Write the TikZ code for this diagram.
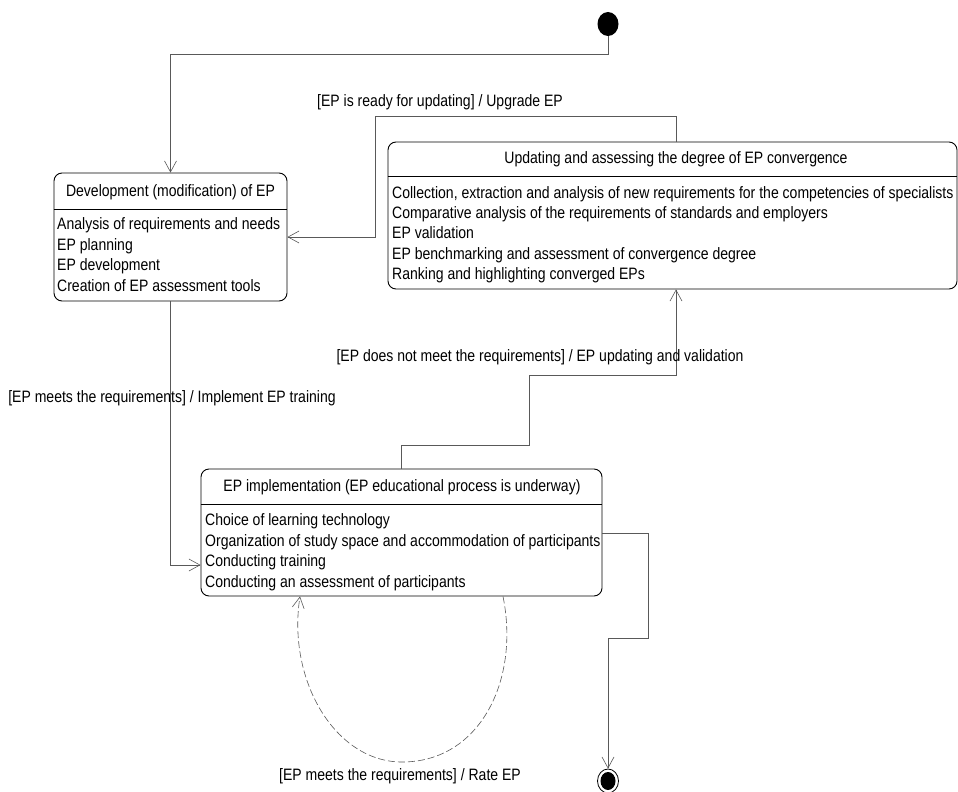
\documentclass[tikz,border=0pt]{standalone}
\usepackage{fontspec}
\setmainfont[FakeStretch=0.85]{Liberation Sans}
\usetikzlibrary{arrows.meta,calc,shapes.geometric}
\begin{document}
\begin{tikzpicture}[x=1pt,y=-1pt,
  statebox/.style={draw=black,line width=0.9pt,rounded corners=8pt,inner sep=0pt},
  conn/.style={draw=black!65,line width=0.6pt},
  tip/.style={-{Straight Barb[length=11pt,width=12pt,line width=0.6pt]}},
  txt/.style={font=\fontsize{16.5}{20}\selectfont,inner sep=0pt,text height=12pt,text depth=3pt},
  item/.style={txt,anchor=west},
  lbl/.style={txt}]
\useasboundingbox (0,0) rectangle (958,792);
% states
\node[statebox,minimum width=233pt,minimum height=128pt] (dev) at (170.5,237) {};
\node[statebox,minimum width=569pt,minimum height=147pt] (upd) at (672.5,215.5) {};
\node[statebox,minimum width=401pt,minimum height=127pt] (impl) at (401.5,532.5) {};
\draw[line width=0.9pt] (dev.west |- 0,209) -- (dev.east |- 0,209);
\draw[line width=0.9pt] (upd.west |- 0,176) -- (upd.east |- 0,176);
\draw[line width=0.9pt] (impl.west |- 0,504) -- (impl.east |- 0,504);
% initial and final
\node[ellipse,fill=black,minimum width=21pt,minimum height=24pt,inner sep=0pt] (init) at (608,24) {};
\node[ellipse,draw=black,line width=0.8pt,minimum width=21pt,minimum height=24pt,inner sep=0pt] (fin) at (608,781) {};
\node[ellipse,fill=black,minimum width=15pt,minimum height=18pt,inner sep=0pt] (finin) at (fin.center) {};
% titles
\node[lbl] (devt) at (170.5,192) {Development (modification) of EP};
\node[lbl] (updt) at (676,159) {Updating and assessing the degree of EP convergence};
\node[lbl] (implt) at (402,487) {EP implementation (EP educational process is underway)};
% items
\node[item] (d1) at (57,225) {Analysis of requirements and needs};
\node[item] (d2) at (57,246) {EP planning};
\node[item] (d3) at (57,266) {EP development};
\node[item] (d4) at (57,287) {Creation of EP assessment tools};
\node[item] (u1) at (392,194) {Collection, extraction and analysis of new requirements for the competencies of specialists};
\node[item] (u2) at (392,214) {Comparative analysis of the requirements of standards and employers};
\node[item] (u3) at (392,234) {EP validation};
\node[item] (u4) at (392,255) {EP benchmarking and assessment of convergence degree};
\node[item] (u5) at (392,275) {Ranking and highlighting converged EPs};
\node[item] (i1) at (205,521) {Choice of learning technology};
\node[item] (i2) at (205,542) {Organization of study space and accommodation of participants};
\node[item] (i3) at (205,562) {Conducting training};
\node[item] (i4) at (205,583) {Conducting an assessment of participants};
% connectors
\draw[conn,tip] (init) |- (dev.north |- 0,54) -- (dev.north);
\draw[conn,tip] (upd.north -| 676,0) |- (375,116) |- (dev.east);
\draw[conn,tip] (dev.south) |- (impl.west |- 0,565);
\draw[conn,tip] (impl.north) |- (529,445) |- (676,375) -- (upd.south -| 676,0);
\draw[conn,tip] (impl.east |- 0,533) -| (648,638) -| (fin.north);
\draw[conn,dashed,dash pattern=on 7pt off 3pt,tip] (impl.south -| 503,0) .. controls (520,680) and (480,762) .. (402,762) .. controls (335,762) and (287,680) .. (impl.south -| 300,0);
% labels
\node[lbl] (l1) at (440,102) {[EP is ready for updating] / Upgrade EP};
\node[lbl] (l2) at (540,357) {[EP does not meet the requirements] / EP updating and validation};
\node[lbl] (l3) at (172,398) {[EP meets the requirements] / Implement EP training};
\node[lbl] (l4) at (400,776) {[EP meets the requirements] / Rate EP};
\end{tikzpicture}
\end{document}
